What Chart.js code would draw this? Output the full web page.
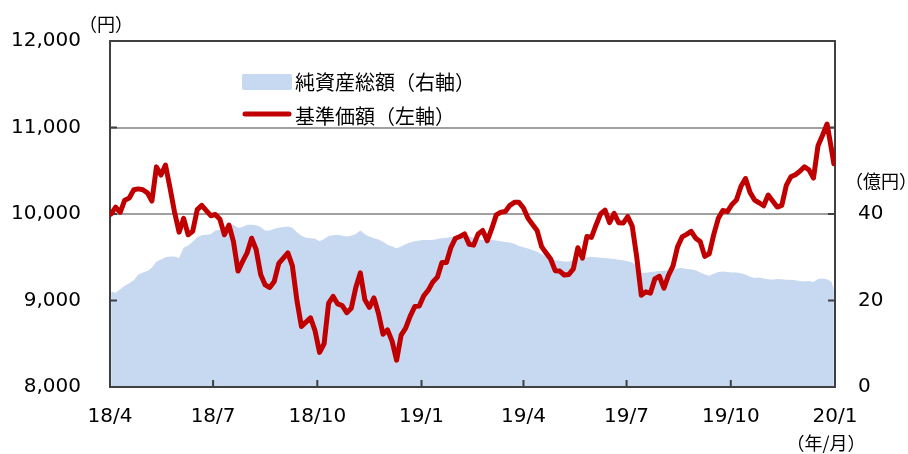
<!DOCTYPE html>
<html><head><meta charset="utf-8">
<script src="https://cdn.jsdelivr.net/npm/chart.js@4.4.1/dist/chart.umd.min.js"></script>
<style>html,body{margin:0;padding:0;background:#fff}#wrap{width:908px;height:454px}</style>
</head><body><div id="wrap"><canvas id="c" width="908" height="454"></canvas></div>
<script>
const dates = [
'2018-04-02','2018-04-06','2018-04-10','2018-04-14','2018-04-18','2018-04-22','2018-04-26','2018-04-30',
'2018-05-04','2018-05-08','2018-05-12','2018-05-16','2018-05-20','2018-05-24','2018-05-28',
'2018-06-01','2018-06-05','2018-06-09','2018-06-13','2018-06-17','2018-06-21','2018-06-25','2018-06-29',
'2018-07-03','2018-07-07','2018-07-11','2018-07-15','2018-07-19','2018-07-23','2018-07-27','2018-07-31',
'2018-08-04','2018-08-08','2018-08-12','2018-08-16','2018-08-20','2018-08-24','2018-08-28',
'2018-09-01','2018-09-05','2018-09-09','2018-09-13','2018-09-17','2018-09-21','2018-09-25','2018-09-29',
'2018-10-03','2018-10-07','2018-10-11','2018-10-15','2018-10-19','2018-10-23','2018-10-27','2018-10-31',
'2018-11-04','2018-11-08','2018-11-12','2018-11-16','2018-11-20','2018-11-24','2018-11-28',
'2018-12-02','2018-12-06','2018-12-10','2018-12-14','2018-12-18','2018-12-22','2018-12-26','2018-12-30',
'2019-01-03','2019-01-07','2019-01-11','2019-01-15','2019-01-19','2019-01-23','2019-01-27','2019-01-31',
'2019-02-04','2019-02-08','2019-02-12','2019-02-16','2019-02-20','2019-02-24','2019-02-28',
'2019-03-04','2019-03-08','2019-03-12','2019-03-16','2019-03-20','2019-03-24','2019-03-28',
'2019-04-01','2019-04-05','2019-04-09','2019-04-13','2019-04-17','2019-04-21','2019-04-25','2019-04-29',
'2019-05-03','2019-05-07','2019-05-11','2019-05-15','2019-05-19','2019-05-23','2019-05-27','2019-05-31',
'2019-06-04','2019-06-08','2019-06-12','2019-06-16','2019-06-20','2019-06-24','2019-06-28',
'2019-07-02','2019-07-06','2019-07-10','2019-07-14','2019-07-18','2019-07-22','2019-07-26','2019-07-30',
'2019-08-03','2019-08-07','2019-08-11','2019-08-15','2019-08-19','2019-08-23','2019-08-27','2019-08-31',
'2019-09-04','2019-09-08','2019-09-12','2019-09-16','2019-09-20','2019-09-24','2019-09-28',
'2019-10-02','2019-10-06','2019-10-10','2019-10-14','2019-10-18','2019-10-22','2019-10-26','2019-10-30',
'2019-11-03','2019-11-07','2019-11-11','2019-11-15','2019-11-19','2019-11-23','2019-11-27',
'2019-12-01','2019-12-05','2019-12-09','2019-12-13','2019-12-17','2019-12-21','2019-12-25','2019-12-29','2019-12-31'
];
// 基準価額（円, 左軸）
const navValues = [
10000,10080,10020,10160,10185,10280,10290,10280,10245,10150,
10545,10450,10565,10300,10020,9790,9950,9760,9800,10050,
10100,10040,9980,9995,9940,9760,9873,9680,9340,9450,
9550,9720,9590,9300,9180,9150,9220,9430,9490,9550,
9400,9000,8700,8750,8800,8650,8400,8500,8970,9047,
8960,8940,8860,8910,9150,9320,9008,8920,9030,8850,
8610,8660,8530,8310,8600,8680,8820,8930,8935,9055,
9120,9215,9270,9440,9440,9615,9720,9740,9770,9650,
9640,9770,9810,9690,9830,9990,10020,10030,10100,10135,
10135,10070,9950,9880,9810,9623,9550,9480,9345,9340,
9295,9300,9365,9610,9490,9740,9730,9870,10000,10045,
9900,10008,9900,9895,9970,9860,9500,9060,9100,9085,
9250,9280,9143,9290,9400,9620,9735,9765,9800,9720,
9681,9510,9540,9765,9950,10040,10027,10110,10161,10320,
10410,10250,10161,10130,10095,10219,10150,10080,10100,10330,
10430,10455,10495,10546,10510,10415,10790,10911,11040,10740,
10580
];
// 純資産総額（億円, 右軸）
const netAssets = [
22.0,21.8,22.6,23.4,24.0,24.7,26.0,26.5,26.8,27.6,
29.0,29.5,30.0,30.2,30.2,29.8,32.2,32.7,33.6,34.6,
35.1,35.2,35.4,36.2,36.3,36.5,37.3,37.5,36.8,37.0,
37.5,37.5,37.4,37.0,36.1,36.2,36.6,36.8,37.0,37.1,
36.8,35.8,35.0,34.5,34.4,34.3,33.7,34.2,34.9,35.1,
35.2,35.0,34.8,35.0,35.4,36.2,35.3,34.8,34.4,34.1,
33.6,32.9,32.5,32.1,32.5,33.0,33.4,33.7,33.9,34.0,
34.0,34.0,34.2,34.4,34.5,34.7,34.9,35.1,35.0,34.8,
34.5,34.1,34.0,34.0,34.0,33.9,33.7,33.5,33.4,33.1,
32.6,32.3,32.0,31.7,31.3,30.7,30.2,29.7,29.3,29.2,
29.0,29.0,29.3,29.6,29.8,30.0,30.1,30.0,29.9,29.8,
29.7,29.6,29.4,29.3,29.1,28.8,28.0,26.4,26.4,26.6,
26.7,26.8,26.9,27.0,27.2,27.4,27.5,27.3,27.2,27.0,
26.5,26.0,25.7,26.2,26.6,26.7,26.6,26.5,26.5,26.3,
26.0,25.5,25.2,25.3,25.1,24.9,24.8,25.0,24.9,24.8,
24.8,24.7,24.5,24.4,24.5,24.3,25.0,25.1,24.9,24.3,
22.5
];
const xTickDates = ['2018-04-01','2018-07-01','2018-10-01','2019-01-01','2019-04-01','2019-07-01','2019-10-01','2020-01-01'];
const xTickLabels = ['18/4','18/7','18/10','19/1','19/4','19/7','19/10','20/1'];
const rightTickLabels = [0, 20, 40];
const seriesNames = ['基準価額（左軸）', '純資産総額（右軸）'];
const unitTexts = { left: '（円）', right: '（億円）', bottom: '（年/月）' };

const LINE_COLOR = '#c00000';
const AREA_COLOR = '#c6d9f0';
const FRAME_COLOR = '#404040';

const framePlugin = {
  id: 'frame',
  afterDatasetDraw(chart, args) {
    if (args.index !== 1) return;
    const {ctx, chartArea: {left, right, top, bottom}, scales} = chart;
    ctx.save();
    ctx.strokeStyle = FRAME_COLOR;
    ctx.lineWidth = 2;
    ctx.strokeRect(left, top, right - left, bottom - top);
    ctx.beginPath();
    scales.y.ticks.forEach(t => { const p = scales.y.getPixelForValue(t.value); ctx.moveTo(left, p); ctx.lineTo(left + 7, p); });
    scales.y1.ticks.forEach(t => { const p = scales.y1.getPixelForValue(t.value); ctx.moveTo(right, p); ctx.lineTo(right - 7, p); });
    scales.x.ticks.forEach(t => { const p = scales.x.getPixelForValue(t.value); ctx.moveTo(p, bottom); ctx.lineTo(p, bottom - 7); });
    ctx.stroke();
    ctx.restore();
  },
  afterDraw(chart) {
    const {ctx} = chart;
    ctx.save();
    // legend
    ctx.fillStyle = AREA_COLOR;
    ctx.beginPath();
    ctx.roundRect ? ctx.roundRect(242, 74, 50, 16, 2) : ctx.rect(242, 74, 50, 16);
    ctx.fill();
    ctx.strokeStyle = LINE_COLOR;
    ctx.lineWidth = 5;
    ctx.lineCap = 'round';
    ctx.beginPath(); ctx.moveTo(245, 114); ctx.lineTo(289, 114); ctx.stroke();
    ctx.fillStyle = '#000';
    ctx.font = '20px "Noto Sans CJK JP"';
    ctx.textBaseline = 'middle';
    ctx.textAlign = 'left';
    ctx.fillText(seriesNames[1], 295, 82);
    ctx.fillText(seriesNames[0], 295, 116);
    // unit labels
    ctx.font = '18px "Noto Sans CJK JP"';
    ctx.textAlign = 'center';
    ctx.fillText(unitTexts.left, 106, 24);
    ctx.fillText(unitTexts.right, 881, 181);
    ctx.fillText(unitTexts.bottom, 826, 443);
    ctx.restore();
  }
};

new Chart(document.getElementById('c'), {
  type: 'line',
  data: {
    datasets: [
      {
        label: seriesNames[0],
        data: dates.map((d, i) => ({x: Date.parse(d), y: navValues[i]})),
        yAxisID: 'y',
        borderColor: LINE_COLOR,
        borderWidth: 5,
        borderJoinStyle: 'round',
        borderCapStyle: 'round',
        pointRadius: 0,
        fill: false,
        tension: 0
      },
      {
        label: seriesNames[1],
        data: dates.map((d, i) => ({x: Date.parse(d), y: netAssets[i]})),
        yAxisID: 'y1',
        borderWidth: 0,
        borderColor: AREA_COLOR,
        backgroundColor: AREA_COLOR,
        pointRadius: 0,
        fill: 'origin',
        tension: 0
      }
    ]
  },
  options: {
    responsive: false,
    animation: false,
    devicePixelRatio: 1,
    layout: { padding: { top: 41, left: 0, right: 0, bottom: 0 } },
    plugins: { legend: { display: false }, tooltip: { enabled: false } },
    scales: {
      x: {
        type: 'linear',
        min: Date.parse(xTickDates[0]),
        max: Date.parse(xTickDates[xTickDates.length - 1]),
        afterBuildTicks: s => { s.ticks = xTickDates.map(d => ({value: Date.parse(d)})); },
        afterFit: s => { s.height = 67; },
        grid: { display: false, drawTicks: false },
        border: { display: false },
        ticks: {
          autoSkip: false, maxRotation: 0, padding: 18,
          color: '#000', font: { family: 'DejaVu Sans', size: 20 },
          callback: (v, i) => xTickLabels[i]
        }
      },
      y: {
        position: 'left',
        min: 8000, max: 12000,
        ticks: {
          stepSize: 1000, padding: 29, color: '#000',
          font: { family: 'DejaVu Sans', size: 20 },
          callback: v => v.toLocaleString('en-US')
        },
        afterFit: s => { s.width = 110; },
        grid: {
          drawTicks: false, lineWidth: 2,
          color: c => (c.tick && (c.tick.value === 8000 || c.tick.value === 12000)) ? 'rgba(0,0,0,0)' : '#a0a0a0'
        },
        border: { display: false }
      },
      y1: {
        position: 'right',
        min: 0, max: 80,
        ticks: {
          stepSize: 20, padding: 23, color: '#000',
          font: { family: 'DejaVu Sans', size: 20 },
          callback: v => rightTickLabels.includes(v) ? String(v) : ''
        },
        afterFit: s => { s.width = 73; },
        grid: { display: false, drawTicks: false },
        border: { display: false }
      }
    }
  },
  plugins: [framePlugin]
});
</script>
</body></html>
